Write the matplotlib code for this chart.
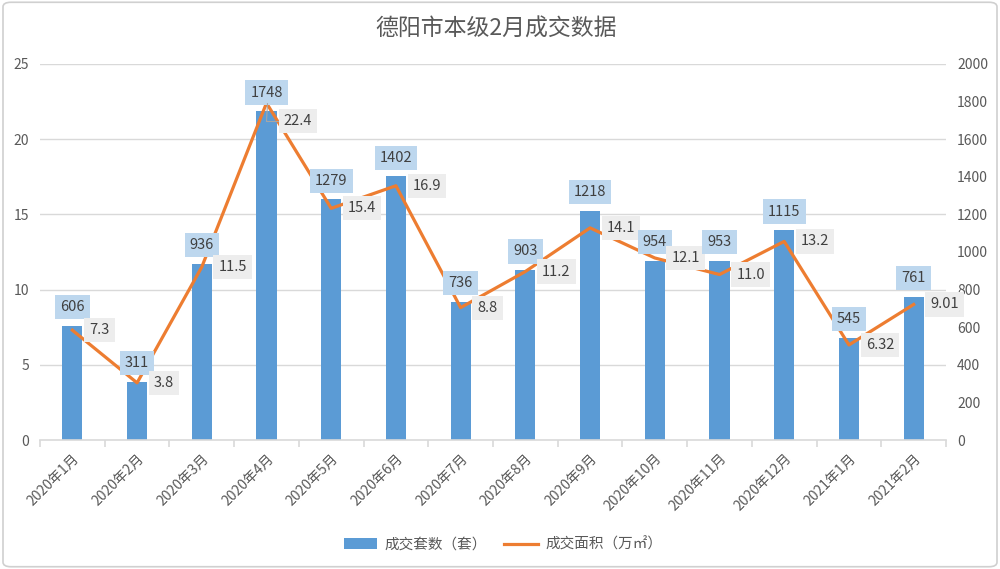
import matplotlib.pyplot as plt
from matplotlib.patches import FancyBboxPatch
import numpy as np

plt.rcParams['font.family'] = ['Noto Sans CJK SC', 'DejaVu Sans']

months = ['2020年1月', '2020年2月', '2020年3月', '2020年4月', '2020年5月', '2020年6月',
          '2020年7月', '2020年8月', '2020年9月', '2020年10月', '2020年11月', '2020年12月',
          '2021年1月', '2021年2月']
units = [606, 311, 936, 1748, 1279, 1402, 736, 903, 1218, 954, 953, 1115, 545, 761]
area = [7.3, 3.8, 11.5, 22.4, 15.4, 16.9, 8.8, 11.2, 14.1, 12.1, 11.0, 13.2, 6.32, 9.01]
area_labels = ['7.3', '3.8', '11.5', '22.4', '15.4', '16.9', '8.8', '11.2', '14.1', '12.1',
               '11.0', '13.2', '6.32', '9.01']

grey = '#595959'
fig = plt.figure(figsize=(10, 5.69), dpi=100)
fig.patches.append(FancyBboxPatch((0.003, 0.004), 0.994, 0.992, boxstyle='round,pad=0,rounding_size=0.008',
                                  transform=fig.transFigure, fill=False, edgecolor='#D0D0D0', linewidth=1.2))

ax = fig.add_axes([0.04, 0.2267, 0.906, 0.661])
ax2 = ax.twinx()
x = np.arange(len(months))

ax2.bar(x, units, width=0.31, color='#5B9BD5', zorder=2, label='成交套数（套）')
ax.plot(x, area, color='#ED7D31', linewidth=2.3, zorder=3, label='成交面积（万㎡）', solid_joinstyle='round')

ax.set_ylim(0, 25)
ax2.set_ylim(0, 2000)
ax.set_xlim(-0.5, len(months) - 0.5)
ax.set_yticks(range(0, 26, 5))
ax2.set_yticks(range(0, 2001, 200))

ax.set_zorder(ax2.get_zorder() + 1)
ax.patch.set_visible(False)
ax2.grid(False)
for v in range(5, 26, 5):
    ax2.axhline(v * 80, color='#D9D9D9', linewidth=1, zorder=0)

for a in (ax, ax2):
    for s in a.spines.values():
        s.set_visible(False)
    a.tick_params(axis='y', length=0, colors=grey, labelsize=10, pad=8)
ax.spines['bottom'].set_visible(True)
ax.spines['bottom'].set_color('#D9D9D9')
ax.spines['bottom'].set_linewidth(1.2)

ax.set_xticks(x)
ax.set_xticklabels(months, rotation=45, ha='right', rotation_mode='anchor', fontsize=10, color=grey)
ax.tick_params(axis='x', length=0, pad=8)
ax.set_xticks(np.arange(-0.5, len(months), 1), minor=True)
ax.tick_params(axis='x', which='minor', length=5, color='#D9D9D9', width=1.2)

# labels all live on the top axes so they sit above the line
peak = int(np.argmax(area))
for i in range(len(months)):
    ax.annotate(str(units[i]), (x[i], units[i]), xycoords=ax2.transData,
                xytext=(0, 13.5), textcoords='offset points',
                ha='center', va='center', fontsize=10.5, color='#404040', zorder=5,
                bbox=dict(boxstyle='square,pad=0.35', facecolor='#BDD7EE', edgecolor='none'))
    if i == peak:
        ax.annotate(area_labels[i], (x[i], area[i]), xytext=(12.5, -12.7), textcoords='offset points',
                    ha='left', va='center', fontsize=10.5, color='#404040', zorder=5,
                    bbox=dict(boxstyle='square,pad=0.35', facecolor='#EDEDED', edgecolor='none'),
                    arrowprops=dict(arrowstyle='-', color='#A6A6A6', lw=0.8, shrinkA=0, shrinkB=0,
                                    connectionstyle='angle,angleA=180,angleB=90,rad=0'))
    else:
        ax.annotate(area_labels[i], (x[i], area[i]), xytext=(12.1, 0), textcoords='offset points',
                    ha='left', va='center', fontsize=10.5, color='#404040', zorder=5,
                    bbox=dict(boxstyle='square,pad=0.35', facecolor='#EDEDED', edgecolor='none'))

fig.text(0.496, 0.949, '德阳市本级2月成交数据', ha='center', va='center', fontsize=16.5, color=grey)

h1, l1 = ax2.get_legend_handles_labels()
h2, l2 = ax.get_legend_handles_labels()
fig.legend(h1 + h2, l1 + l2, loc='center', bbox_to_anchor=(0.503, 0.043), ncol=2, frameon=False,
           fontsize=10.5, labelcolor=grey, handlelength=2.3, handletextpad=0.5, columnspacing=1.2)

fig.savefig('out.png', dpi=100)
